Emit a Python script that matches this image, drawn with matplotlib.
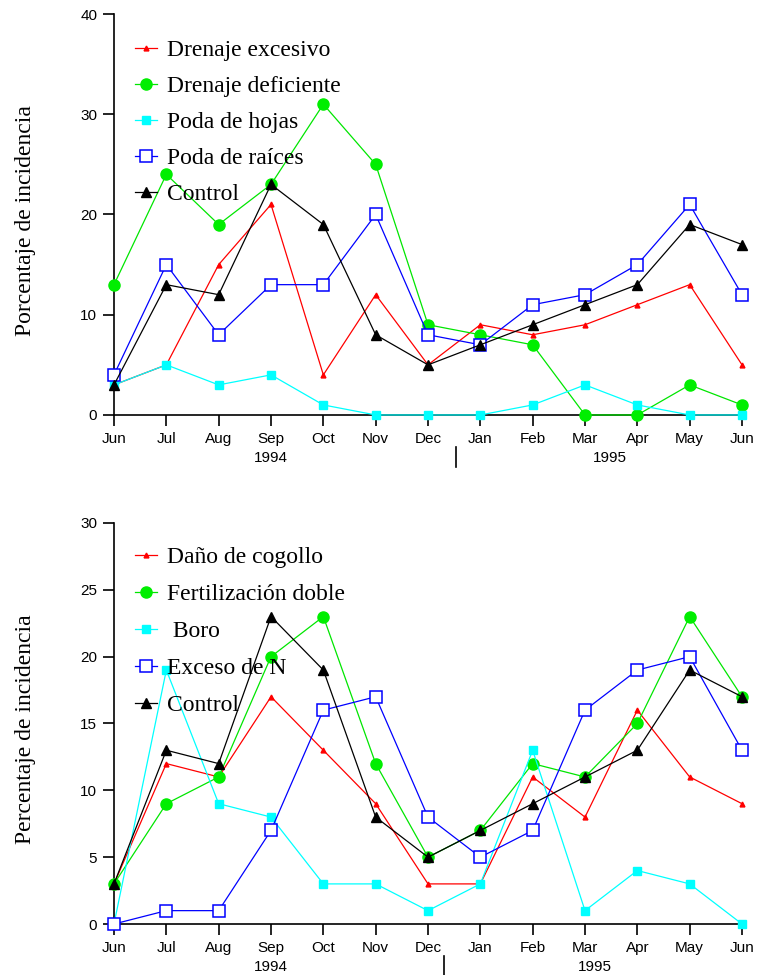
import matplotlib
matplotlib.use("Agg")
import matplotlib.pyplot as plt
import matplotlib.transforms as mtransforms

months = ["Jun", "Jul", "Aug", "Sep", "Oct", "Nov", "Dec",
          "Jan", "Feb", "Mar", "Apr", "May", "Jun"]

# Panel 1: drainage and pruning treatments
top_labels = ["Drenaje excesivo", "Drenaje deficiente", "Poda de hojas",
              "Poda de raíces", "Control"]
drenaje_excesivo = [3, 5, 15, 21, 4, 12, 5, 9, 8, 9, 11, 13, 5]
drenaje_deficiente = [13, 24, 19, 23, 31, 25, 9, 8, 7, 0, 0, 3, 1]
poda_hojas = [3, 5, 3, 4, 1, 0, 0, 0, 1, 3, 1, 0, 0]
poda_raices = [4, 15, 8, 13, 13, 20, 8, 7, 11, 12, 15, 21, 12]
control_top = [3, 13, 12, 23, 19, 8, 5, 7, 9, 11, 13, 19, 17]

# Panel 2: bud damage, fertilization and nutrient treatments
bottom_labels = ["Daño de cogollo", "Fertilización doble", " Boro",
                 "Exceso de N", "Control"]
dano_cogollo = [3, 12, 11, 17, 13, 9, 3, 3, 11, 8, 16, 11, 9]
fertilizacion_doble = [3, 9, 11, 20, 23, 12, 5, 7, 12, 11, 15, 23, 17]
boro = [0, 19, 9, 8, 3, 3, 1, 3, 13, 1, 4, 3, 0]
exceso_n = [0, 1, 1, 7, 16, 17, 8, 5, 7, 16, 19, 20, 13]
control_bottom = [3, 13, 12, 23, 19, 8, 5, 7, 9, 11, 13, 19, 17]

styles = [
    dict(color="#ff0000", marker="^", markersize=3.5, markerfacecolor="#ff0000"),
    dict(color="#00e600", marker="o", markersize=8, markerfacecolor="#00ee00",
         markeredgecolor="#00ee00"),
    dict(color="#00ffff", marker="s", markersize=6, markerfacecolor="#00ffff",
         markeredgecolor="#00ffff"),
    dict(color="#0000ff", marker="s", markersize=8, markerfacecolor="white",
         markeredgecolor="#0000ff", markeredgewidth=1.1),
    dict(color="black", marker="^", markersize=7, markerfacecolor="black"),
]

serif = ["Liberation Serif", "DejaVu Serif"]
sans = ["Liberation Sans", "DejaVu Sans"]

fig = plt.figure(figsize=(7.57, 9.75), dpi=100)
ax_top = fig.add_axes([0.1506, 0.5744, 0.8296, 0.4112])
ax_bot = fig.add_axes([0.1506, 0.0523, 0.8296, 0.4113])


def draw_panel(ax, series, labels, ymax, ystep, ylabel, year2_x, bar_x,
               leg_anchor, leg_spacing, label_y):
    x = list(range(len(months)))
    for values, label, st in zip(series, labels, styles):
        ax.plot(x, values, label=label, linewidth=0.9, clip_on=False, zorder=3, **st)
    ax.set_xlim(0, len(months) - 1)
    ax.set_ylim(0, ymax)
    ax.set_xticks(x)
    ax.set_xticklabels(months, fontfamily=sans, fontsize=11)
    ax.set_yticks(range(0, ymax + 1, ystep))
    ax.set_yticklabels([str(v) for v in range(0, ymax + 1, ystep)],
                       fontfamily=sans, fontsize=11)
    ax.spines["top"].set_visible(False)
    ax.spines["right"].set_visible(False)
    for s in ("left", "bottom"):
        ax.spines[s].set_linewidth(1.2)
    ax.tick_params(direction="out", length=8, width=1.2, pad=4)
    ax.set_ylabel(ylabel, fontfamily=serif, fontsize=17, labelpad=0)
    ax.yaxis.set_label_coords(-0.125, label_y)

    trans = mtransforms.blended_transform_factory(ax.transData, ax.transAxes)
    ax.text(3, -0.107, "1994", transform=trans, ha="center", va="center",
            fontfamily=sans, fontsize=11)
    ax.text(year2_x, -0.107, "1995", transform=trans, ha="center", va="center",
            fontfamily=sans, fontsize=11)
    ax.plot([bar_x, bar_x], [-0.08, -0.13], transform=trans, color="black",
            linewidth=1.2, clip_on=False)

    leg = ax.legend(loc="upper left", bbox_to_anchor=leg_anchor, frameon=False,
                    prop={"family": serif, "size": 17}, handlelength=0.95,
                    handletextpad=0.42, labelspacing=leg_spacing, borderpad=0,
                    borderaxespad=0, numpoints=1)
    return leg


draw_panel(ax_top, [drenaje_excesivo, drenaje_deficiente, poda_hojas,
                    poda_raices, control_top],
           top_labels, 40, 10, "Porcentaje de incidencia", 9.48, 6.54,
           (0.033, 0.937), 0.62, 0.484)
draw_panel(ax_bot, [dano_cogollo, fertilizacion_doble, boro, exceso_n,
                    control_bottom],
           bottom_labels, 30, 5, "Percentaje de incidencia", 9.19, 6.3,
           (0.033, 0.942), 0.66, 0.486)

fig.savefig("out.png", dpi=100)
